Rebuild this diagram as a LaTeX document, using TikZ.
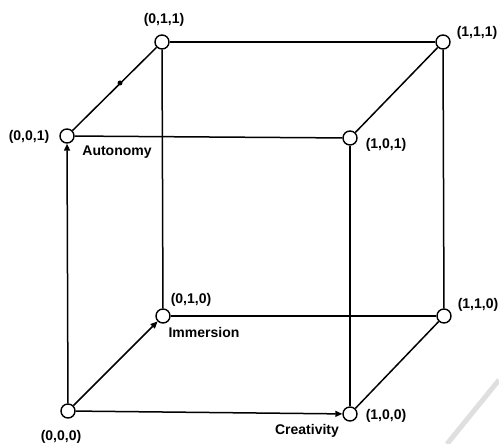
\documentclass[tikz,border=0pt]{standalone}
\usepackage{fontspec}
\setmainfont{Liberation Sans}
\usetikzlibrary{arrows.meta}
\begin{document}
\begin{tikzpicture}[x=1pt,y=1pt,
  vtx/.style={circle,draw=black,fill=white,line width=1.4pt,minimum size=14pt,inner sep=0pt},
  edge/.style={line width=1.5pt,black},
  arr/.style={edge,-{Triangle[length=7pt,width=6pt]}},
  lbl/.style={font=\fontsize{14}{16}\selectfont\bfseries,inner sep=0pt}]
\useasboundingbox (0,0) rectangle (499,444);
% watermark stroke
\draw[gray!25,line width=5pt] (447,0) -- (499,64);
% vertices
\node[vtx] (v000) at (68,33) {};
\node[vtx] (v100) at (350,30) {};
\node[vtx] (v010) at (163,128) {};
\node[vtx] (v110) at (444,128) {};
\node[vtx] (v001) at (67,308) {};
\node[vtx] (v101) at (350,306) {};
\node[vtx] (v011) at (162,402) {};
\node[vtx] (v111) at (443,402) {};
% edges
\draw[edge] (v001) -- (v011);
\draw[edge] (v011) -- (v111);
\draw[edge] (v001) -- (v101);
\draw[edge] (v101) -- (v111);
\draw[edge] (v011) -- (v010);
\draw[edge] (v111) -- (v110);
\draw[edge] (v101) -- (v100);
\draw[edge] (v010) -- (v110);
\draw[edge] (v100) -- (v110);
\draw[arr] (v000) -- (v001);
\draw[arr] (v000) -- (v010);
\draw[arr] (v000) -- (v100);
% small dot
\node[circle,fill=black,inner sep=0pt,minimum size=5pt] (dot) at (120,361) {};
% labels
\node[lbl] (l011) at (164,424) {(0,1,1)};
\node[lbl] (l001) at (29,307) {(0,0,1)};
\node[lbl] (laut) at (117,292) {Autonomy};
\node[lbl] (l111) at (477,411) {(1,1,1)};
\node[lbl] (l101) at (386,299) {(1,0,1)};
\node[lbl] (l010) at (191,144) {(0,1,0)};
\node[lbl] (limm) at (204,111) {Immersion};
\node[lbl] (l000) at (61,7) {(0,0,0)};
\node[lbl] (l110) at (478,139) {(1,1,0)};
\node[lbl] (l100) at (386,28) {(1,0,0)};
\node[lbl] (lcre) at (307,13) {Creativity};
\end{tikzpicture}
\end{document}
